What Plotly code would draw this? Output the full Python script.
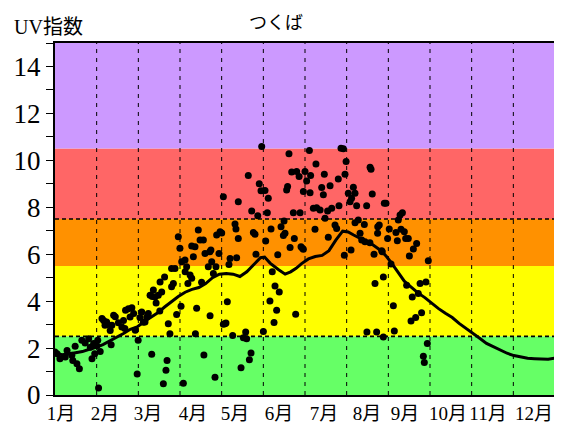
import plotly.graph_objects as go

# ---- data (day of year, UV index) ----
obs_day = [0.0,1.5,3.6,7.5,8.8,12.3,13.0,14.7,16.0,17.8,19.6,22.0,24.6,25.8,27.0,28.2,29.0,30.5,31.2,31.8,33.0,
           34.3,35.5,36.5,37.7,38.5,40.3,41.0,41.5,42.8,44.0,46.3,48.8,50.0,51.0,51.5,53.6,54.8,56.1,57.4,58.6,60.0,60.7,
           62.0,63.3,64.5,65.7,67.0,68.1,69.4,70.6,71.0,71.8,73.0,73.8,75.4,76.5,76.7,77.9,79.1,80.0,81.0,81.8,82.7,83.9,85.1,85.1,86.4,87.6,88.8,
           90.0,91.2,92.0,92.5,93.7,94.9,95.0,96.1,97.0,98.6,99.8,99.8,101.0,102.2,102.5,103.4,104.6,105.9,107.0,108.3,108.7,109.5,111.9,113.0,113.2,113.8,114.4,115.6,116.8,117.5,118.0,119.7,120.5,121.7,
           122.9,122.9,124.1,124.8,125.8,127.0,127.8,129.7,131.4,132.1,132.6,133.8,133.8,135.8,137.5,139.2,139.9,141.1,141.9,143.1,143.6,144.8,146.0,146.7,148.0,149.1,150.4,150.9,152.1,
           153.3,153.8,155.0,155.7,156.9,157.7,158.6,159.9,160.6,161.8,162.6,163.7,165.0,166.7,167.2,167.9,169.1,169.8,170.8,171.6,172.8,174.0,174.7,175.7,176.4,178.2,178.9,179.6,180.6,181.3,181.3,182.5,
           183.7,185.7,186.2,186.6,188.6,189.8,190.5,191.0,193.5,194.7,195.9,196.6,197.1,199.0,199.5,200.8,202.0,204.4,205.6,206.8,207.3,208.8,210.5,211.2,211.7,212.5,
           214.1,215.4,216.1,216.5,217.8,219.0,219.0,220.2,221.4,222.7,223.9,225.8,226.3,227.5,227.7,229.9,230.0,230.7,231.6,232.9,233.6,234.8,235.5,235.6,236.7,238.5,238.9,239.7,239.7,240.4,241.6,242.8,
           244.0,245.3,247.0,247.7,248.9,249.9,250.6,251.9,252.6,253.6,255.0,256.0,256.7,257.9,258.7,259.9,260.8,261.6,263.3,264.0,265.2,266.5,267.6,268.9,269.6,270.8,271.8,272.5]
obs_uv = [1.83,1.76,1.55,1.62,1.90,1.69,1.47,2.08,1.33,1.12,2.33,2.22,2.40,2.04,1.55,2.19,1.76,2.10,2.33,0.30,1.85,
          3.26,3.18,2.97,3.11,3.00,2.75,2.14,2.97,3.40,3.33,3.08,2.90,3.18,2.83,3.61,3.68,3.32,3.72,3.47,2.76,0.90,2.33,
          3.30,3.54,3.10,3.11,3.32,3.47,4.25,1.74,4.20,4.47,4.18,3.92,4.25,3.58,4.82,4.39,0.48,5.03,1.05,1.47,3.04,2.61,4.61,5.39,4.75,5.39,3.43,
          6.74,6.25,3.78,5.68,0.50,5.75,5.25,5.46,4.75,5.11,4.97,6.35,5.89,6.32,2.61,3.70,7.03,6.60,4.80,6.60,1.70,6.03,5.46,6.10,3.38,6.18,5.68,5.18,0.76,5.46,6.82,6.03,6.96,6.90,
          8.45,3.01,3.04,3.07,3.97,5.56,5.82,2.54,7.29,7.07,5.85,6.67,8.24,1.16,2.44,2.68,2.40,9.35,1.50,1.79,7.84,6.92,6.85,6.00,7.64,9.00,8.70,10.59,2.71,
          8.71,6.56,7.77,8.38,4.01,7.07,5.25,3.09,4.64,3.61,5.98,4.39,7.17,6.80,7.41,6.89,8.74,8.88,10.28,6.29,9.50,7.77,6.67,3.44,9.52,9.31,7.77,6.32,6.25,8.67,6.21,9.52,
          9.12,10.42,8.62,9.35,7.96,7.06,9.84,7.98,7.88,8.84,8.53,9.41,7.53,7.84,6.72,8.92,7.96,7.24,7.10,9.20,8.06,10.52,10.49,5.96,9.41,9.95,
          8.60,8.24,6.18,8.38,8.85,8.60,7.34,8.06,7.46,6.89,6.60,7.27,6.53,8.06,2.68,6.49,9.71,9.62,8.57,6.00,4.75,2.68,6.89,7.17,7.24,6.15,6.10,5.03,2.47,8.17,8.17,6.67,
          7.07,5.58,3.80,2.73,6.93,6.57,7.46,7.67,7.06,7.77,6.96,6.67,4.68,6.67,5.92,3.15,4.18,6.22,3.30,6.46,4.32,4.75,3.50,1.65,1.38,4.82,2.19,5.72]

clim_day = [0,5,10,15,20,25,30,35,40,45,50,55,60,65,70,75,80,85,90,95,100,105,110,115,120,125,130,135,140,145,150,153,157,163,168,172,176,180,185,190,195,200,205,210,214,218,225,232,238,242,246,250,255,260,265,270,275,280,285,290,295,300,305,310,315,320,325,330,335,340,345,350,355,360,365]
clim_uv = [1.80,1.72,1.75,1.80,1.85,1.95,2.03,2.15,2.30,2.45,2.62,2.80,2.90,3.12,3.30,3.50,3.75,3.98,4.20,4.38,4.50,4.58,4.75,5.00,5.15,5.18,5.15,5.05,5.25,5.55,5.85,5.88,5.62,5.35,5.15,5.25,5.40,5.60,5.80,5.90,5.95,6.15,6.60,6.98,6.95,6.82,6.60,6.40,6.15,5.90,5.60,5.25,4.85,4.60,4.35,4.15,3.90,3.68,3.48,3.30,3.05,2.85,2.65,2.42,2.20,2.05,1.90,1.78,1.68,1.62,1.57,1.55,1.52,1.52,1.57]

month_labels = ["1月","2月","3月","4月","5月","6月","7月","8月","9月","10月","11月","12月"]
label_px = [61,105,148,193,235,279,324,367,405,448,488,534]  # label centres (page pixels)

bands = [(0,2.5,"#66FF66"),(2.5,5.5,"#FFFF00"),(5.5,7.5,"#FF9100"),(7.5,10.5,"#FF6666"),(10.5,15,"#CC99FF")]

# the page body adds an 8px offset, so the figure is sized/placed to compensate
OFF = 8
W, H = 562 - OFF, 426 - OFF
PL, PT, PW, PH = 55, 43, 500, 352          # plot area in page pixels
L, T = PL - OFF, PT - OFF
R, B = W - L - PW, H - T - PH
XMAX = 365.0
SERIF = "Times New Roman, Liberation Serif, serif"

fig = go.Figure()
fig.add_trace(go.Scatter(x=obs_day, y=obs_uv, mode="markers",
                         marker=dict(color="black", size=7), showlegend=False))
fig.add_trace(go.Scatter(x=clim_day, y=clim_uv, mode="lines",
                         line=dict(color="black", width=3), showlegend=False))

shapes = []
for y0, y1, c in bands:
    shapes.append(dict(type="rect", xref="x", yref="y", x0=0, x1=XMAX, y0=y0, y1=y1,
                       fillcolor=c, line=dict(width=0), layer="below"))
for k in range(1, 12):
    xv = k * XMAX / 12
    shapes.append(dict(type="line", xref="x", yref="y", x0=xv, x1=xv, y0=0, y1=15,
                       line=dict(color="black", width=1, dash="4px,5px"), layer="below"))
for yv in (2.5, 7.5):
    shapes.append(dict(type="line", xref="x", yref="y", x0=0, x1=XMAX, y0=yv, y1=yv,
                       line=dict(color="black", width=1.6, dash="4px,3px"), layer="below"))

tickvals = [(p - PL) / PW * XMAX for p in label_px]

fig.update_layout(
    width=W, height=H, margin=dict(l=L, r=R, t=T, b=B, autoexpand=False),
    paper_bgcolor="white", plot_bgcolor="white",
    shapes=shapes,
    title=dict(text="つくば", x=(276 - OFF) / W, xanchor="center", y=1 - (23 - OFF) / H, yanchor="middle",
               font=dict(family="Noto Sans CJK JP", size=18, color="black")),
    xaxis=dict(range=[0, XMAX], tickvals=tickvals, ticktext=month_labels, ticks="", ticklen=0,
               automargin=False,
               showgrid=False, zeroline=False, showline=True, linecolor="black", linewidth=2, mirror=True,
               tickfont=dict(family=SERIF + ", Noto Sans CJK JP", size=19, color="black")),
    yaxis=dict(range=[0, 15], tickvals=[0, 2, 4, 6, 8, 10, 12, 14], ticks="outside", ticklen=7,
               tickwidth=1.3, tickcolor="black", automargin=False,
               minor=dict(dtick=1, ticks="outside", ticklen=7, tickwidth=1.3, tickcolor="black"),
               showgrid=False, zeroline=False, showline=True, linecolor="black", linewidth=2, mirror="ticks",
               tickfont=dict(family=SERIF, size=27, color="black")),
    annotations=[dict(text="UV指数", xref="paper", yref="paper", x=(12 - PL) / PW, y=1 + 16 / PH,
                      xanchor="left", yanchor="middle", showarrow=False,
                      font=dict(family=SERIF + ", Noto Sans CJK JP", size=20, color="black"))],
)

fig.write_html("out.html")
